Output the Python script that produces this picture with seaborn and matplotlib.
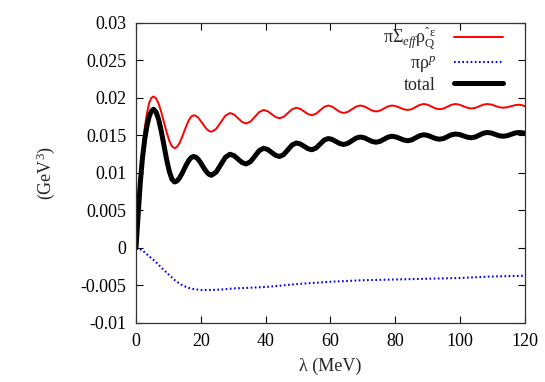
import numpy as np
import seaborn as sns
import matplotlib
matplotlib.use('Agg')
import matplotlib.pyplot as plt
from matplotlib.ticker import FuncFormatter

# lambda grid (MeV) shared by the oscillating curves
lam = [0, 0.6, 1.35, 2.0, 2.7, 3.4, 4.05, 4.7, 5.4,
       6.21, 7.03, 7.84, 8.65, 9.46, 10.28, 11.09, 11.9,
       12.64, 13.38, 14.11, 14.85, 15.59, 16.33, 17.06, 17.8,
       18.49, 19.18, 19.86, 20.55, 21.24, 21.93, 22.61, 23.3,
       24.73, 26.15, 27.58, 29.0,
       30.25, 31.5, 32.75, 34.0,
       35.35, 36.7, 38.05, 39.4,
       40.63, 41.85, 43.08, 44.3,
       45.6, 46.9, 48.2, 49.5,
       50.7, 51.9, 53.1, 54.3,
       55.55, 56.8, 58.05, 59.3,
       60.5, 61.7, 62.9, 64.1,
       65.38, 66.65, 67.93, 69.2,
       70.43, 71.65, 72.88, 74.1,
       75.33, 76.55, 77.78, 79.0,
       80.23, 81.45, 82.68, 83.9,
       85.13, 86.35, 87.58, 88.8,
       90.03, 91.25, 92.48, 93.7,
       94.93, 96.15, 97.38, 98.6,
       99.83, 101.05, 102.28, 103.5,
       104.73, 105.95, 107.18, 108.4,
       109.63, 110.85, 112.08, 113.3,
       114.53, 115.75, 116.98, 118.2,
       119.1, 120]

sigma_eff = [0, 0.0042, 0.0095, 0.0130, 0.0160, 0.0180, 0.0193, 0.0200, 0.0202,
             0.01994, 0.0192, 0.01807, 0.01675, 0.01543, 0.0143, 0.01356, 0.0133,
             0.01347, 0.01394, 0.01466, 0.0155, 0.01634, 0.01706, 0.01753, 0.0177,
             0.01762, 0.01738, 0.0170, 0.0166, 0.01618, 0.01582, 0.01558, 0.0155,
             0.01587, 0.01675, 0.01764, 0.0180,
             0.0178, 0.0173, 0.0168, 0.0166,
             0.01686, 0.0175, 0.01814, 0.0184,
             0.01824, 0.01785, 0.01746, 0.0173,
             0.0175, 0.0180, 0.0185, 0.0187,
             0.01855, 0.0182, 0.01785, 0.0177,
             0.01789, 0.01835, 0.01881, 0.0190,
             0.01885, 0.0185, 0.01815, 0.0180,
             0.01815, 0.0185, 0.01885, 0.0190,
             0.01888, 0.0186, 0.01832, 0.0182,
             0.01832, 0.0186, 0.01888, 0.0190,
             0.01891, 0.0187, 0.01849, 0.0184,
             0.01852, 0.0188, 0.01908, 0.0192,
             0.0191, 0.01885, 0.0186, 0.0185,
             0.0186, 0.01885, 0.0191, 0.0192,
             0.01911, 0.0189, 0.01869, 0.0186,
             0.01869, 0.0189, 0.01911, 0.0192,
             0.01913, 0.01895, 0.01877, 0.0187,
             0.01876, 0.0189, 0.01904, 0.0191,
             0.01905, 0.0189]

total = [0, 0.0040, 0.0088, 0.0120, 0.0145, 0.0163, 0.0175, 0.0182, 0.0185,
         0.01813, 0.01708, 0.0155, 0.01365, 0.0118, 0.01022, 0.00917, 0.0088,
         0.00893, 0.0093, 0.00985, 0.0105, 0.01115, 0.0117, 0.01207, 0.0122,
         0.01211, 0.01183, 0.01143, 0.01095, 0.01047, 0.01007, 0.0098, 0.0097,
         0.01011, 0.0111, 0.01209, 0.0125,
         0.01231, 0.01185, 0.01139, 0.0112,
         0.01151, 0.01225, 0.01299, 0.0133,
         0.01314, 0.01275, 0.01236, 0.0122,
         0.01246, 0.0131, 0.01374, 0.0140,
         0.01387, 0.01355, 0.01323, 0.0131,
         0.01332, 0.01385, 0.01438, 0.0146,
         0.01448, 0.0142, 0.01392, 0.0138,
         0.01395, 0.0143, 0.01465, 0.0148,
         0.0147, 0.01445, 0.0142, 0.0141,
         0.01422, 0.0145, 0.01478, 0.0149,
         0.01481, 0.0146, 0.01439, 0.0143,
         0.01442, 0.0147, 0.01498, 0.0151,
         0.01501, 0.0148, 0.01459, 0.0145,
         0.0146, 0.01485, 0.0151, 0.0152,
         0.01513, 0.01495, 0.01477, 0.0147,
         0.0148, 0.01505, 0.0153, 0.0154,
         0.01533, 0.01515, 0.01497, 0.0149,
         0.01497, 0.01515, 0.01533, 0.0154,
         0.01537, 0.0153]

# perturbative part, smooth so a sparser grid
lam_p = [0, 2, 4, 6, 8, 10, 12, 14, 16, 18, 20, 23, 26, 30, 35, 40,
         50, 60, 70, 80, 90, 100, 110, 120]
rho_p = [0, -0.0003, -0.0011, -0.0018, -0.0027, -0.0035, -0.0043, -0.0049,
         -0.0053, -0.0055, -0.0056, -0.0056, -0.00555, -0.0054, -0.0053,
         -0.0052, -0.0048, -0.0045, -0.0043, -0.0042, -0.0041, -0.0040,
         -0.0038, -0.0037]

labels = [r'$πΣ_{\mathit{eff}}ρ^{ˆε}_{Q}$', r'$πρ^{\mathit{p}}$', 'total']

sns.set_theme(style='ticks')
plt.rcParams['font.family'] = ['Liberation Serif', 'DejaVu Serif']
plt.rcParams['mathtext.fontset'] = 'custom'
plt.rcParams['mathtext.rm'] = 'Liberation Serif'
plt.rcParams['mathtext.it'] = 'Liberation Serif:italic'
plt.rcParams['mathtext.default'] = 'regular'
plt.rcParams['axes.unicode_minus'] = False

fig = plt.figure(figsize=(5.45, 3.82), dpi=100)
ax = fig.add_axes([0.2495, 0.1545, 0.7135, 0.7853])

sns.lineplot(x=lam, y=sigma_eff, color='#ff0000', lw=1.4, ax=ax, label=labels[0])
sns.lineplot(x=lam_p, y=rho_p, color='#0000ff', lw=1.5, ls=(0, (0.8, 1.2)), ax=ax, label=labels[1])
sns.lineplot(x=lam, y=total, color='black', lw=3.6, ax=ax, label=labels[2])

ax.set_xlim(0, 120)
ax.set_ylim(-0.01, 0.03)
ax.set_xticks(range(0, 121, 20))
ax.set_yticks(np.arange(-0.01, 0.0301, 0.005))
ax.yaxis.set_major_formatter(FuncFormatter(lambda v, p: '%g' % round(v, 4)))
ax.tick_params(direction='in', length=5, width=0.8, labelsize=13,
               top=True, right=True, pad=7, colors='black')
for s in ax.spines.values():
    s.set_color('#333333')
    s.set_linewidth(0.9)

ax.set_xlabel('λ (MeV)', fontsize=13, labelpad=6)
ax.set_ylabel(r'(GeV$^3$)', fontsize=13, labelpad=17)

ax.legend(loc='upper right', frameon=False, markerfirst=False, fontsize=13,
          handlelength=2.7, handletextpad=1.0, labelspacing=0.12,
          borderaxespad=0.1, bbox_to_anchor=(0.967, 1.022))

plt.savefig('out.png', dpi=100)
